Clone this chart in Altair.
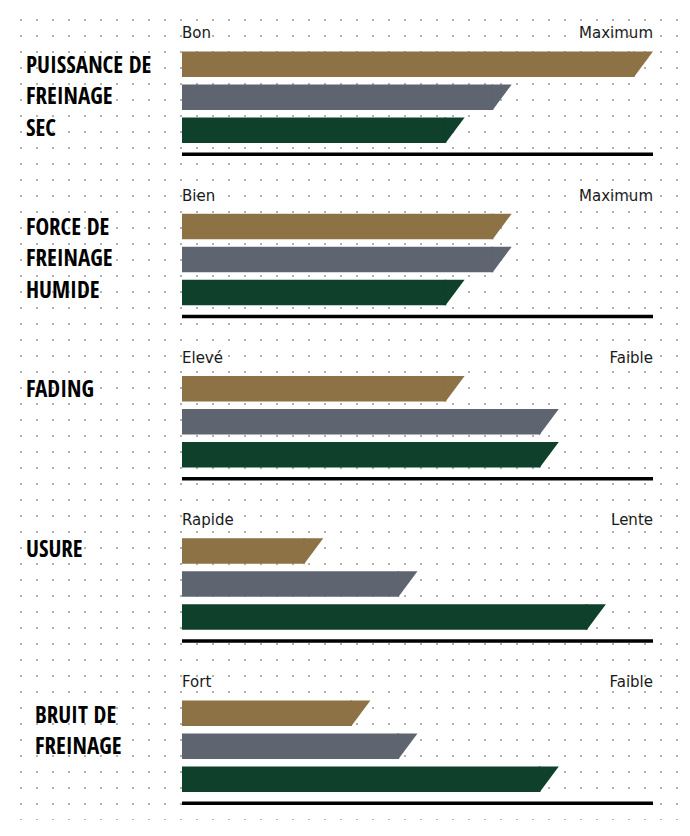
import altair as alt
import pandas as pd
import numpy as np

# ---- data ----
criteria = ["PUISSANCE DE FREINAGE SEC", "FORCE DE FREINAGE HUMIDE", "FADING", "USURE", "BRUIT DE FREINAGE"]
label_lines = [["PUISSANCE DE", "FREINAGE", "SEC"],
               ["FORCE DE", "FREINAGE", "HUMIDE"],
               ["FADING"],
               ["USURE"],
               ["BRUIT DE", "FREINAGE"]]
low_ends = ["Bon", "Bien", "Elevé", "Rapide", "Fort"]
high_ends = ["Maximum", "Maximum", "Faible", "Lente", "Faible"]
series = ["Série 1", "Série 2", "Série 3"]
values_s1 = [10, 7, 6, 3, 4]
values_s2 = [7, 7, 8, 5, 5]
values_s3 = [6, 6, 8, 9, 8]
colors = ["#8C7245", "#5E6570", "#0E402B"]

# ---- layout ----
W, H = 674, 812
G = 162.25          # group pitch
BAR_TOP0 = 43.5
BAR_PITCH = 33
BAR_H = 25.5
SLANT = 19
label_x = [18, 18, 18, 18, 27]
label_base = [64.5, 64.5, 64.5, 62.5, 65.5]
LINE = 31.5

xscale = alt.Scale(domain=[0, 10], range=[174, 645], nice=False, zero=False)
yscale = alt.Scale(domain=[0, H], range=[0, H], nice=False, zero=False)
pxscale = alt.Scale(domain=[0, W], range=[0, W], nice=False, zero=False)
cscale = alt.Scale(domain=series, range=colors)

rows = []
for g in range(len(criteria)):
    for i, vals in enumerate([values_s1, values_s2, values_s3]):
        top = BAR_TOP0 + g * G + i * BAR_PITCH
        rows.append(dict(crit=criteria[g], serie=series[i], zero=0, value=vals[g],
                         top=top, bot=top + BAR_H, mid=top + BAR_H / 2))
bars = pd.DataFrame(rows)

base_df = pd.DataFrame(dict(crit=criteria, lo=[0] * 5, hi=[10] * 5,
                            y=[146.3 + g * G for g in range(5)],
                            ylab=[30.3 + g * G for g in range(5)],
                            low=low_ends, high=high_ends))

labels = pd.DataFrame(dict(crit=criteria,
                           text=["\n".join(lines) for lines in label_lines],
                           px=label_x,
                           y=[label_base[g] + g * G for g in range(5)]))

gx, gy = np.meshgrid(np.arange(13, W, 16), np.arange(12, H + 1, 16))
dots = pd.DataFrame(dict(px=gx.ravel(), py=gy.ravel()))

# ---- layers ----
dot_layer = alt.Chart(dots).mark_circle(size=5, color="#a0a0a0", opacity=1).encode(
    x=alt.X("px:Q", scale=pxscale, axis=None),
    y=alt.Y("py:Q", scale=yscale, axis=None),
)

rect_layer = alt.Chart(bars).mark_rect(x2Offset=-(SLANT - 0.6)).encode(
    x=alt.X("zero:Q", scale=xscale, axis=None),
    x2="value:Q",
    y=alt.Y("top:Q", scale=yscale, axis=None),
    y2="bot:Q",
    color=alt.Color("serie:N", scale=cscale, legend=None),
)

half = BAR_H / 2
k = SLANT / half
tri_path = f"M {-k - 0.08:.3f} -1 L 0 -1 L {-k:.3f} 1 L {-k - 0.08:.3f} 1 Z"
tri_layer = alt.Chart(bars).mark_point(shape=tri_path, size=(2 * half) ** 2, filled=True,
                                       opacity=1, strokeWidth=0).encode(
    x=alt.X("value:Q", scale=xscale, axis=None),
    y=alt.Y("mid:Q", scale=yscale, axis=None),
    color=alt.Color("serie:N", scale=cscale, legend=None),
)

rule_layer = alt.Chart(base_df).mark_rule(color="#000000", strokeWidth=3.5).encode(
    x=alt.X("lo:Q", scale=xscale, axis=None),
    x2="hi:Q",
    y=alt.Y("y:Q", scale=yscale, axis=None),
)

low_layer = alt.Chart(base_df).mark_text(align="left", baseline="alphabetic", font="DejaVu Sans",
                                         fontSize=15, color="#1a1a1a").encode(
    x=alt.X("lo:Q", scale=xscale, axis=None),
    y=alt.Y("ylab:Q", scale=yscale, axis=None),
    text="low:N",
)
high_layer = alt.Chart(base_df).mark_text(align="right", baseline="alphabetic", font="DejaVu Sans",
                                          fontSize=15, color="#1a1a1a").encode(
    x=alt.X("hi:Q", scale=xscale, axis=None),
    y=alt.Y("ylab:Q", scale=yscale, axis=None),
    text="high:N",
)

label_layer = alt.Chart(labels).mark_text(align="left", baseline="alphabetic", lineBreak="\n",
                                          lineHeight=LINE,
                                          font="Open Sans Condensed, Roboto Condensed, sans-serif",
                                          fontWeight="bold", fontSize=23, color="#000000").encode(
    x=alt.X("px:Q", scale=pxscale, axis=None),
    y=alt.Y("y:Q", scale=yscale, axis=None),
    text="text:N",
)

chart = alt.layer(dot_layer, rect_layer, tri_layer, rule_layer, low_layer, high_layer, label_layer).resolve_scale(
    x="independent"
).properties(
    width=W, height=H, padding=0, autosize=alt.AutoSizeParams(type="none"), background="#ffffff"
).configure_view(stroke=None)

chart.save("out.html", embed_options={"renderer": "svg", "actions": False})
